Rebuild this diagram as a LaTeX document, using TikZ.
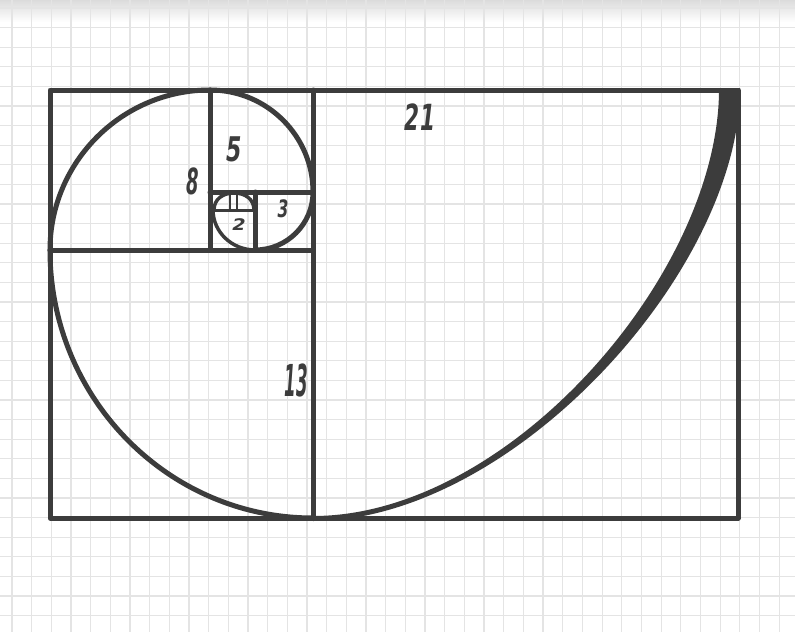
\documentclass[tikz,border=0pt]{standalone}
\usepackage{fontspec}
\newfontfamily\handfont{DejaVu Sans}
\definecolor{ink}{HTML}{3C3C3C}
\definecolor{gridc}{HTML}{E4E4E4}
\begin{document}
\begin{tikzpicture}[x=1pt,y=-1pt,
  frame/.style={draw=ink,line width=5pt,line cap=round,line join=round},
  thinframe/.style={draw=ink,line width=3pt,line cap=round},
  spiral/.style={draw=ink,line width=5pt,line cap=round},
  num/.style={text=ink,inner sep=0pt,font=\handfont\bfseries\itshape}]
\useasboundingbox (0,0) rectangle (795,632);
% paper
\fill[white] (0,0) rectangle (795,632);
\shade[top color=black!14,bottom color=white] (0,0) rectangle (795,22);
\foreach \i in {0,...,40} {\draw[gridc,line width=1.2pt] ({12+19.67*\i},0) -- ({12+19.67*\i},632);}
\foreach \j in {0,...,32} {\draw[gridc,line width=1.2pt] (0,{8+19.6*\j}) -- (795,{8+19.6*\j});}
% rectangles
\draw[frame] (50,90) rectangle (738,518);
\draw[frame] (313,90) -- (313,518);
\draw[frame] (50,250) -- (313,250);
\draw[frame] (210,90) -- (210,250);
\draw[frame] (210,192) -- (313,192);
\draw[frame] (255,192) -- (255,250);
\draw[thinframe] (212,210) -- (255,210);
\draw[thinframe,line width=2.5pt] (230,194) -- (230,210);
\draw[thinframe,line width=2.5pt] (237,194) -- (237,210);
% spiral
\draw[spiral] (50,250) .. controls (50,398) and (168,518) .. (313,518);
\draw[spiral] (210,90) .. controls (122,90) and (50,162) .. (50,250);
\draw[spiral] (313,192) .. controls (313,136) and (267,90) .. (210,90);
\draw[spiral] (255,250) .. controls (287,250) and (313,224) .. (313,192);
\draw[thinframe,line width=3.5pt] (213,210) .. controls (213,232) and (232,250) .. (255,250);
\draw[thinframe,line width=3.5pt] (214,210) .. controls (214,199) and (223,193) .. (234,193) .. controls (245,193) and (254,199) .. (254,210);
\fill[ink] (313,521) .. controls (513,521) and (740,270) .. (740,88) -- (719,88) .. controls (720,272) and (510,516) .. (313,516) -- cycle;
% numbers
\node[num,font=\handfont\bfseries\itshape\fontsize{36}{36}\selectfont,xscale=0.6] (n21) at (420,117) {21};
\node[num,font=\handfont\bfseries\itshape\fontsize{44}{44}\selectfont,xscale=0.38] (n13) at (296,380) {13};
\node[num,font=\handfont\bfseries\itshape\fontsize{36}{36}\selectfont,xscale=0.5] (n8) at (193,181) {8};
\node[num,font=\handfont\bfseries\itshape\fontsize{34}{34}\selectfont,xscale=0.65] (n5) at (234,149) {5};
\node[num,font=\handfont\bfseries\itshape\fontsize{24}{24}\selectfont,xscale=0.65] (n3) at (283,209) {3};
\node[num,font=\handfont\bfseries\itshape\fontsize{16}{16}\selectfont,xscale=1.2] (n2) at (239,225) {2};
\end{tikzpicture}
\end{document}
